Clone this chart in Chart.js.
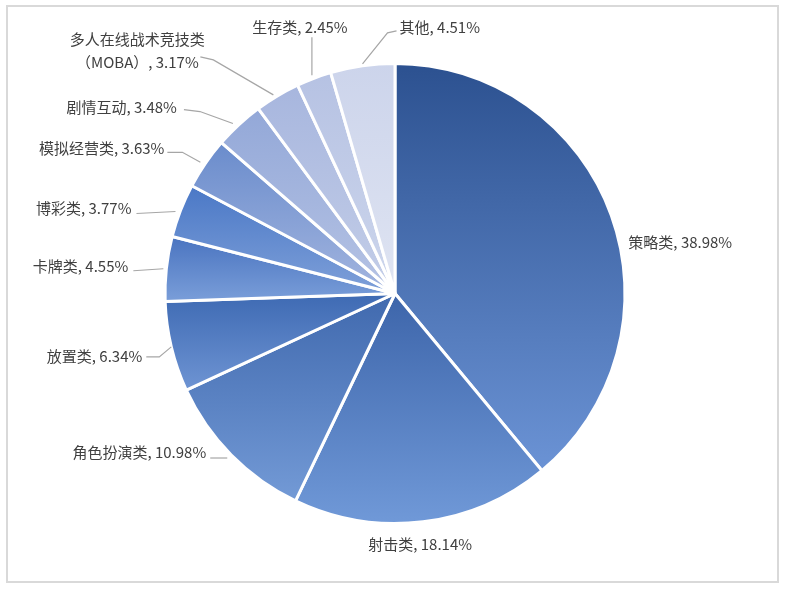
<!DOCTYPE html>
<html>
<head>
<meta charset="utf-8">
<script src="https://cdn.jsdelivr.net/npm/chart.js@4.4.0/dist/chart.umd.min.js"></script>
<style>
  html, body { margin: 0; padding: 0; background: #fff; }
  canvas { display: block; }
</style>
</head>
<body>
<canvas id="pieChart" width="789" height="600"></canvas>
<script>
// Game genre share
const categories = ['策略类', '射击类', '角色扮演类', '放置类', '卡牌类', '博彩类', '模拟经营类', '剧情互动', '多人在线战术竞技类（MOBA）', '生存类', '其他'];
const shares = [38.98, 18.14, 10.98, 6.34, 4.55, 3.77, 3.63, 3.48, 3.17, 2.45, 4.51];

// gradient colours per slice, top -> bottom
const gradTop = ['#2c5190', '#3d65aa', '#4069ae', '#3e6ab3', '#4a74c0', '#4a78c6', '#6a8ccc', '#93a8d8', '#a7b6de', '#b6c2e3', '#ccd4eb'];
const gradBottom = ['#6b93d5', '#7099d8', '#739ad6', '#6e94d3', '#7a9ed9', '#7fa0d9', '#a3b5df', '#b6c3e4', '#c4cee8', '#cdd6ec', '#dfe4f2'];

// label placement relative to the slice edge point: text offset, alignment, leader path
const labelLayout = [
  { dx: 17, dy: 27, align: 'left', leader: [] },
  { dx: -3, dy: 23, align: 'center', leader: [] },
  { dx: -25, dy: -3, align: 'right', leader: [[-4, 3], [-21, 3]] },
  { dx: -29, dy: 9, align: 'right', leader: [[0, 0], [-12, 10], [-25, 10]] },
  { dx: -38, dy: -2, align: 'right', leader: [[-3, 0], [-33, 2]] },
  { dx: -49, dy: -2, align: 'right', leader: [[-5, 1], [-44, 3]] },
  { dx: -41, dy: -15, align: 'right', leader: [[-5, -1], [-23, -11], [-38, -11]] },
  { dx: -62, dy: -17, align: 'right', leader: [[-6, -1], [-39, -13], [-55, -15]] },
  { dx: -140, dy: -57, align: 'center', leader: [[-4, -1], [-64, -36], [-77, -39]] },
  { dx: -14, dy: -51, align: 'center', leader: [[-2, -3], [-2, -41]] },
  { dx: 37, dy: -39, align: 'left', leader: [[0, -2], [25, -33], [34, -35]] }
];

function labelText(i) {
  const pct = shares[i].toFixed(2) + '%';
  if (i === 8) return ['多人在线战术竞技类', '（MOBA）, ' + pct];
  return [categories[i] + ', ' + pct];
}

// vertical extent of a sector
function sectorYRange(a) {
  let ys = [a.y, a.y + Math.sin(a.startAngle) * a.outerRadius, a.y + Math.sin(a.endAngle) * a.outerRadius];
  const inRange = t => {
    for (let k = -2; k <= 2; k++) {
      const v = t + k * 2 * Math.PI;
      if (v >= a.startAngle && v <= a.endAngle) return true;
    }
    return false;
  };
  if (inRange(Math.PI / 2)) ys.push(a.y + a.outerRadius);
  if (inRange(-Math.PI / 2)) ys.push(a.y - a.outerRadius);
  return [Math.min(...ys), Math.max(...ys)];
}

const framePlugin = {
  id: 'frame',
  beforeDraw(chart) {
    const ctx = chart.ctx;
    ctx.save();
    ctx.strokeStyle = '#d9d9d9';
    ctx.lineWidth = 2;
    ctx.strokeRect(7, 6, 771, 576);
    ctx.restore();
  }
};

const gradientPlugin = {
  id: 'sliceGradient',
  beforeDatasetsDraw(chart) {
    const ctx = chart.ctx;
    const meta = chart.getDatasetMeta(0);
    meta.data.forEach((arc, i) => {
      const p = arc.getProps(['x', 'y', 'startAngle', 'endAngle', 'outerRadius'], true);
      const [y0, y1] = sectorYRange(p);
      const g = ctx.createLinearGradient(0, y0, 0, y1);
      g.addColorStop(0, gradTop[i]);
      g.addColorStop(1, gradBottom[i]);
      arc.options = Object.assign({}, arc.options, { backgroundColor: g });
    });
  }
};

const labelPlugin = {
  id: 'sliceLabels',
  afterDatasetsDraw(chart) {
    const ctx = chart.ctx;
    const meta = chart.getDatasetMeta(0);
    ctx.save();
    ctx.font = '15px "Noto Sans CJK SC", sans-serif';
    ctx.textBaseline = 'middle';
    meta.data.forEach((arc, i) => {
      const p = arc.getProps(['x', 'y', 'startAngle', 'endAngle', 'outerRadius'], true);
      const mid = (p.startAngle + p.endAngle) / 2;
      const ax = p.x + Math.cos(mid) * p.outerRadius;
      const ay = p.y + Math.sin(mid) * p.outerRadius;
      const lay = labelLayout[i];

      if (lay.leader.length) {
        ctx.strokeStyle = '#a6a6a6';
        ctx.lineWidth = 1.2;
        ctx.beginPath();
        lay.leader.forEach((pt, k) => {
          if (k === 0) ctx.moveTo(ax + pt[0], ay + pt[1]);
          else ctx.lineTo(ax + pt[0], ay + pt[1]);
        });
        ctx.stroke();
      }

      ctx.fillStyle = '#404040';
      ctx.textAlign = lay.align;
      const lines = labelText(i);
      lines.forEach((line, k) => {
        ctx.fillText(line, ax + lay.dx, ay + lay.dy + k * 23);
      });
    });
    ctx.restore();
  }
};

const ctx = document.getElementById('pieChart').getContext('2d');
new Chart(ctx, {
  type: 'pie',
  data: {
    labels: categories,
    datasets: [{
      data: shares,
      backgroundColor: gradTop,
      borderColor: '#ffffff',
      borderWidth: 3
    }]
  },
  options: {
    responsive: false,
    animation: false,
    layout: { padding: { top: 62, bottom: 75, left: 1, right: 0 } },
    plugins: {
      legend: { display: false },
      tooltip: { enabled: false }
    }
  },
  plugins: [framePlugin, gradientPlugin, labelPlugin]
});
</script>
</body>
</html>
